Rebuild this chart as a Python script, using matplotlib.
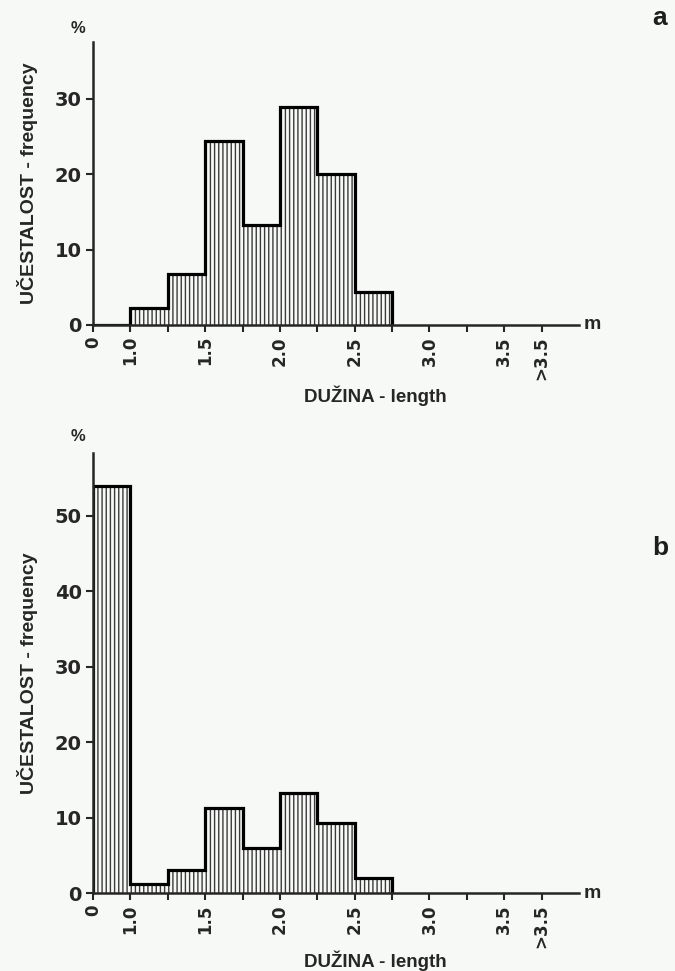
import numpy as np
import matplotlib.pyplot as plt

# length classes (m); first class is 0-1.0, then 0.25 m steps
classes = ['0-1.0', '1.0-1.25', '1.25-1.5', '1.5-1.75', '1.75-2.0',
           '2.0-2.25', '2.25-2.5', '2.5-2.75']
freq_a = [0, 2.2, 6.7, 24.4, 13.3, 28.9, 20.0, 4.4]
freq_b = [54.0, 1.2, 3.0, 11.3, 6.0, 13.3, 9.3, 2.0]

tick_labels = ['0', '1.0', '', '1.5', '', '2.0', '', '2.5', '', '3.0', '', '3.5', '>3.5']
yticks_a = [0, 10, 20, 30]
yticks_b = [0, 10, 20, 30, 40, 50]

plt.rcParams['font.family'] = ['Liberation Sans', 'DejaVu Sans']
plt.rcParams['font.weight'] = 'bold'
plt.rcParams['axes.labelweight'] = 'bold'
plt.rcParams['hatch.linewidth'] = 1.0

ink = '#262626'
paper = '#f7f9f6'
numfont = ['DejaVu Sans']

fig = plt.figure(figsize=(6.75, 9.71), dpi=100, facecolor=paper)
ax_a = fig.add_axes([0.1378, 0.6653, 0.72, 0.2915])
ax_b = fig.add_axes([0.1378, 0.0803, 0.72, 0.4531])


def draw(ax, freq, yticks, ytop, xlab_y):
    ax.set_facecolor('none')
    edges = np.arange(len(classes) + 1)
    # hatched columns
    ax.bar(edges[:-1], freq, width=1.0, align='edge', facecolor='none',
           edgecolor='#3a3a3a', hatch='||||', linewidth=0)
    # heavy outline
    ax.stairs(freq, edges, baseline=0, fill=False, color='black', linewidth=2.3)

    ax.set_xlim(0, 13)
    ax.set_ylim(0, ytop)
    for s in ['top', 'right']:
        ax.spines[s].set_visible(False)
    for s in ['left', 'bottom']:
        ax.spines[s].set_linewidth(1.8)
        ax.spines[s].set_color(ink)

    ax.set_xticks(np.arange(len(tick_labels)))
    ax.set_xticklabels(tick_labels, rotation=90, fontsize=12, color=ink,
                       family=numfont)
    ax.set_yticks(yticks)
    ax.set_yticklabels([str(v) for v in yticks], fontsize=14, color=ink,
                       family=numfont)
    ax.tick_params(direction='out', length=5, width=1.5, color=ink, pad=3)

    ax.set_xlabel('DUŽINA - length', fontsize=13.5, color=ink)
    ax.xaxis.set_label_coords(0.58, xlab_y)
    ax.set_ylabel('UČESTALOST - frequency', fontsize=14, color=ink, labelpad=12)

    ax.text(-0.03, 1.02, '%', transform=ax.transAxes, ha='center', va='bottom',
            fontsize=12, color=ink)
    ax.text(1.01, 0.0, 'm', transform=ax.transAxes, ha='left', va='center',
            fontsize=14, color=ink)


draw(ax_a, freq_a, yticks_a, 37.5, -0.215)
draw(ax_b, freq_b, yticks_b, 58.3, -0.13)

# panel letters
fig.text(660 / 675, 1 - 18 / 971, 'a', ha='center', va='center',
         fontsize=19, fontweight='heavy', color='#1e1e1e')
fig.text(660 / 675, 1 - 548 / 971, 'b', ha='center', va='center',
         fontsize=19, fontweight='heavy', color='#1e1e1e')

fig.savefig('out.png', dpi=100, facecolor=paper)
